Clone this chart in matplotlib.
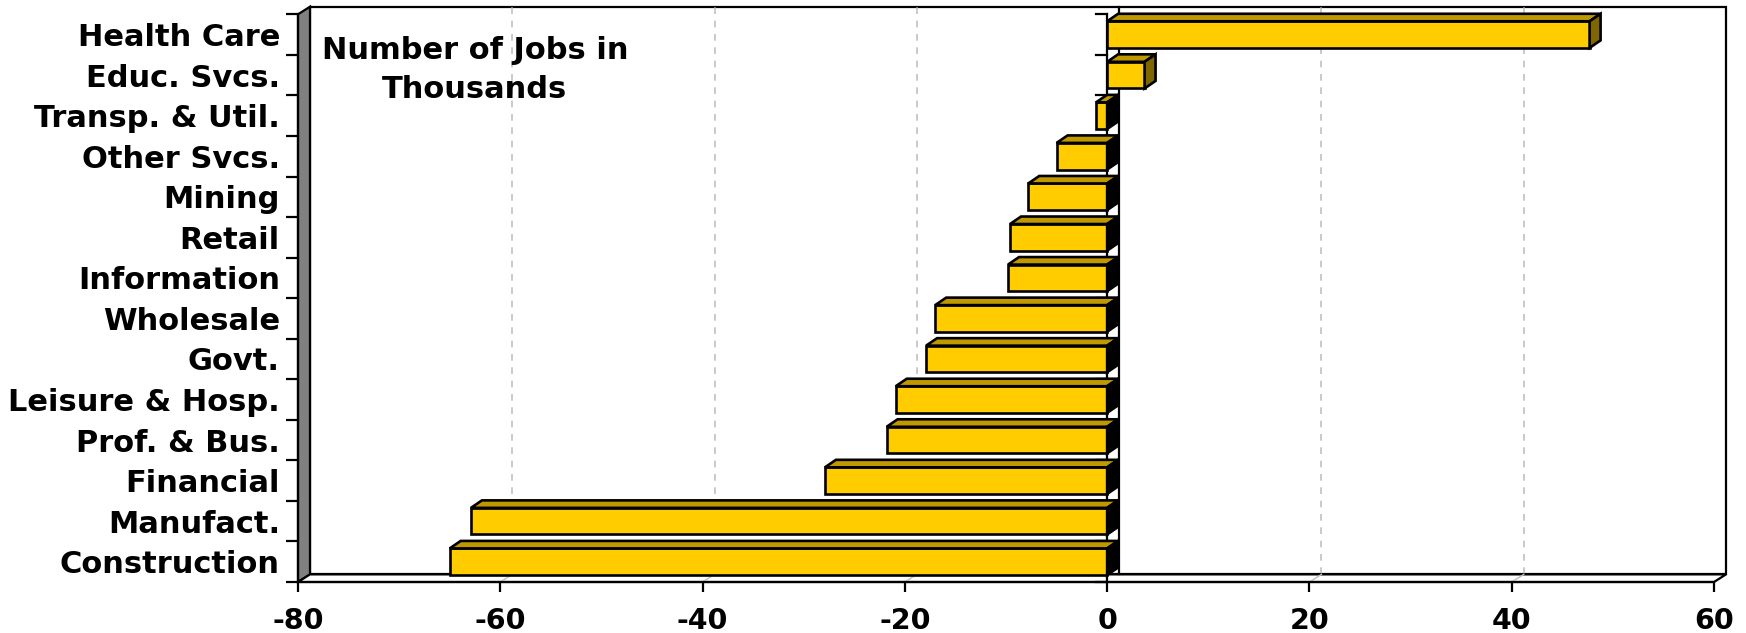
import matplotlib
matplotlib.use("Agg")
import matplotlib.pyplot as plt
from matplotlib.patches import Polygon, Rectangle

# Change in employment by industry (thousands of jobs), bottom to top
categories = ["Construction", "Manufact.", "Financial", "Prof. & Bus.",
              "Leisure & Hosp.", "Govt.", "Wholesale", "Information", "Retail",
              "Mining", "Other Svcs.", "Transp. & Util.", "Educ. Svcs.",
              "Health Care"]
job_change = [-65.0, -62.9, -27.9, -21.8, -20.9, -17.9, -17.0, -9.8, -9.6,
              -7.8, -5.0, -1.1, 3.7, 47.7]
x_ticks = [-80, -60, -40, -20, 0, 20, 40, 60]
note = "Number of Jobs in\nThousands"

FRONT = "#FFCC00"
TOP = "#C09900"
SIDE_POS = "#806600"
SIDE_NEG = "#000000"
WALL = "#808080"
GRID = "#C0C0C0"

plt.rcParams["font.family"] = ["DejaVu Sans"]
plt.rcParams["font.weight"] = "bold"

W, H = 1746, 633
fig = plt.figure(figsize=(W / 100, H / 100), dpi=100)
left_px, right_px, top_px, bot_px = 298, 1714, 14.3, 582
ax = fig.add_axes([left_px / W, (H - bot_px) / H,
                   (right_px - left_px) / W, (bot_px - top_px) / H])

n = len(categories)
xmin, xmax = x_ticks[0], x_ticks[-1]
ymin, ymax = -0.5, n - 0.5
ax.set_xlim(xmin, xmax)
ax.set_ylim(ymin, ymax)

# pixel -> data unit conversion for the 3-D depth offsets
px_x = (right_px - left_px) / (xmax - xmin)
px_y = (bot_px - top_px) / n
wdx, wdy = 12 / px_x, 7.6 / px_y      # wall depth
bdx, bdy = 11 / px_x, 7.5 / px_y      # bar depth
bar_h = 26.6 / px_y
tick_len = 11 / px_x
EDGE = 1.9

# back wall
ax.add_patch(Rectangle((xmin + wdx, ymin + wdy), xmax - xmin, ymax - ymin,
                       fc="white", ec="black", lw=1.6, zorder=0.5,
                       clip_on=False))
# gridlines on the back wall and their traces on the floor
for v in x_ticks[1:-1]:
    if v == 0:
        continue
    ax.plot([v + wdx, v + wdx], [ymin + wdy, ymax + wdy], color=GRID,
            ls=(0, (4, 4)), lw=1.2, zorder=0.6, clip_on=False)
    ax.plot([v, v + wdx], [ymin, ymin + wdy], color=GRID, lw=1.0,
            zorder=1.2, clip_on=False)

# side wall
ax.add_patch(Polygon([(xmin, ymin), (xmin + wdx, ymin + wdy),
                      (xmin + wdx, ymax + wdy), (xmin, ymax)],
                     closed=True, fc=WALL, ec="black", lw=1.6, zorder=1,
                     clip_on=False))
# floor
ax.add_patch(Polygon([(xmin, ymin), (xmax, ymin), (xmax + wdx, ymin + wdy),
                      (xmin + wdx, ymin + wdy)],
                     closed=True, fc="white", ec="black", lw=1.6, zorder=1.1,
                     clip_on=False))

# category axis plane crossing at zero
ax.plot([wdx, wdx], [ymin + wdy, ymax + wdy], color="black", lw=1.6,
        zorder=1.5, clip_on=False)
ax.plot([0, 0], [ymin, ymax], color="black", lw=1.6, zorder=1.6,
        clip_on=False)
for b in range(n + 1):
    yb = ymin + b
    ax.plot([-tick_len, 0], [yb, yb], color="black", lw=1.6, zorder=1.6,
            clip_on=False)

# bars: front faces
ypos = list(range(n))
ax.barh(ypos, job_change, height=bar_h, left=0, color=FRONT,
        edgecolor="black", lw=EDGE, zorder=3)
# bars: top and end faces
for i, v in enumerate(job_change):
    x0, x1 = min(v, 0), max(v, 0)
    y0, y1 = i - bar_h / 2, i + bar_h / 2
    ax.add_patch(Polygon([(x0, y1), (x1, y1), (x1 + bdx, y1 + bdy),
                          (x0 + bdx, y1 + bdy)], closed=True, fc=TOP,
                         ec="black", lw=EDGE, zorder=3, clip_on=False))
    ax.add_patch(Polygon([(x1, y0), (x1 + bdx, y0 + bdy),
                          (x1 + bdx, y1 + bdy), (x1, y1)], closed=True,
                         fc=SIDE_POS if v > 0 else SIDE_NEG,
                         ec="black", lw=EDGE, zorder=3, clip_on=False))

# axes styling
for s in ("top", "right"):
    ax.spines[s].set_visible(False)
for s in ("left", "bottom"):
    ax.spines[s].set_linewidth(1.6)
    ax.spines[s].set_zorder(2)

ax.set_yticks(ypos)
ax.set_yticklabels(categories, fontsize=22, fontweight="bold")
ax.set_yticks([ymin + b for b in range(n + 1)], minor=True)
ax.tick_params(axis="y", which="major", length=0, pad=13)
ax.tick_params(axis="y", which="minor", length=8.5, width=1.6,
               direction="out")

ax.set_xticks(x_ticks)
ax.set_xticklabels([str(t) for t in x_ticks], fontsize=20.5,
                   fontweight="bold")
ax.tick_params(axis="x", length=7, width=1.6, direction="out", pad=11)

ax.text((475 - left_px) / (right_px - left_px), (bot_px - 70) / (bot_px - top_px),
        note, transform=ax.transAxes, ha="center", va="center",
        fontsize=22, fontweight="bold", linespacing=1.4, zorder=4)

fig.savefig("out.png", dpi=100)
